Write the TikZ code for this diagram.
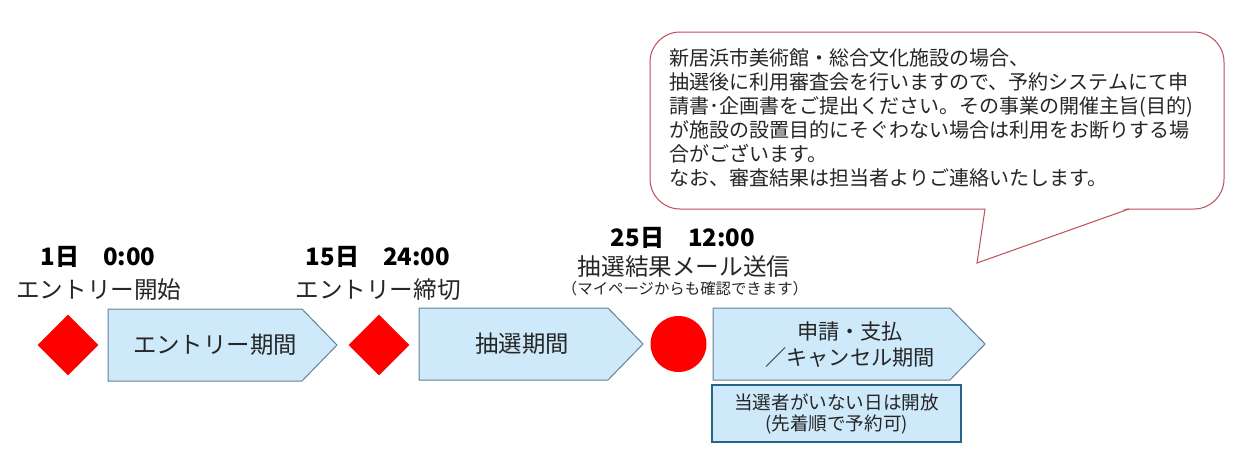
\documentclass[tikz,border=0pt]{standalone}
\usepackage{fontspec}
\setmainfont{Noto Sans CJK JP}
\usetikzlibrary{shapes.geometric}
\definecolor{boxfill}{RGB}{205,233,250}
\definecolor{boxline}{RGB}{100,130,152}
\definecolor{openline}{RGB}{40,100,135}
\definecolor{noteline}{RGB}{190,75,90}
\definecolor{mred}{RGB}{255,0,0}
\definecolor{ink}{RGB}{38,38,38}
\tikzset{
  phase/.style={draw=boxline, fill=boxfill, line width=0.5pt},
  phasetext/.style={text=ink, font=\fontsize{11.7}{14}\selectfont},
  milestone/.style={diamond, fill=mred, inner sep=0pt, minimum size=30.5pt},
  result/.style={circle, fill=mred, inner sep=0pt, minimum size=28pt},
  datetext/.style={text=black, font=\bfseries\fontsize{12}{14}\selectfont},
  eventtext/.style={text=ink, font=\fontsize{11.8}{14}\selectfont},
  smalltext/.style={text=ink, font=\fontsize{7.7}{9}\selectfont},
  notetext/.style={text=ink, align=left, inner sep=0pt, font=\fontsize{10}{12}\selectfont},
  noteframe/.style={draw=noteline, line width=0.5pt},
  openbox/.style={draw=openline, fill=boxfill, line width=1.2pt, align=center,
    text=ink, inner sep=0pt, minimum width=124.5pt, minimum height=28.5pt,
    font=\fontsize{9.3}{10.5}\selectfont}
}
\begin{document}
\begin{tikzpicture}[x=0.5pt, y=-0.5pt]
        \useasboundingbox (0,0) rectangle (1236,450);

        % callout
        \draw[noteframe, fill=white, rounded corners=15pt] (650,32) rectangle (1224,209);
        \fill[white] (985.5,207.5) -- (977,263) -- (1128.5,207.5) -- cycle;
        \draw[noteframe] (985,209) -- (977,263) -- (1129,209); %tail
        \node[notetext, anchor=west] (note) at (669,118) {新居浜市美術館・総合文化施設の場合、\\
                抽選後に利用審査会を行いますので、予約システムにて申\\
                請書･企画書をご提出ください。その事業の開催主旨(目的)\\
                が施設の設置目的にそぐわない場合は利用をお断りする場\\
                合がございます。\\
                なお、審査結果は担当者よりご連絡いたします。};

        % timeline
        \node[milestone] (start) at (68,345) {};
        \draw[phase] (108,309) -- (302,309) -- (337,345) -- (302,381) -- (108,381) -- cycle; %entry
        \node[phasetext] (entry) at (215,345) {エントリー期間};
        \node[milestone] (close) at (379,345) {};
        \draw[phase] (419,308) -- (608,308) -- (643,344) -- (608,380) -- (419,380) -- cycle; %lottery
        \node[phasetext] (lottery) at (522,344) {抽選期間};
        \node[result] (mail) at (678.5,344) {};
        \draw[phase] (713,308) -- (950,308) -- (985,344) -- (950,380) -- (713,380) -- cycle; %apply
        \node[phasetext, align=center, font=\fontsize{10.6}{13}\selectfont] (apply) at (850,345) {申請・支払\\／キャンセル期間};
        \node[openbox] (open) at (836.5,413.5) {当選者がいない日は開放\\(先着順で予約可)};

        % labels
        \node[datetext] (d1) at (98,257) {1日　0:00};
        \node[eventtext] (e1) at (99,290) {エントリー開始};
        \node[datetext] (d2) at (378,257) {15日　24:00};
        \node[eventtext] (e2) at (378,290) {エントリー締切};
        \node[datetext] (d3) at (683,238) {25日　12:00};
        \node[eventtext] (e3) at (684,267) {抽選結果メール送信};
        \node[smalltext] (e3note) at (685,289) {（マイページからも確認できます）};
    \end{tikzpicture}
\end{document}
